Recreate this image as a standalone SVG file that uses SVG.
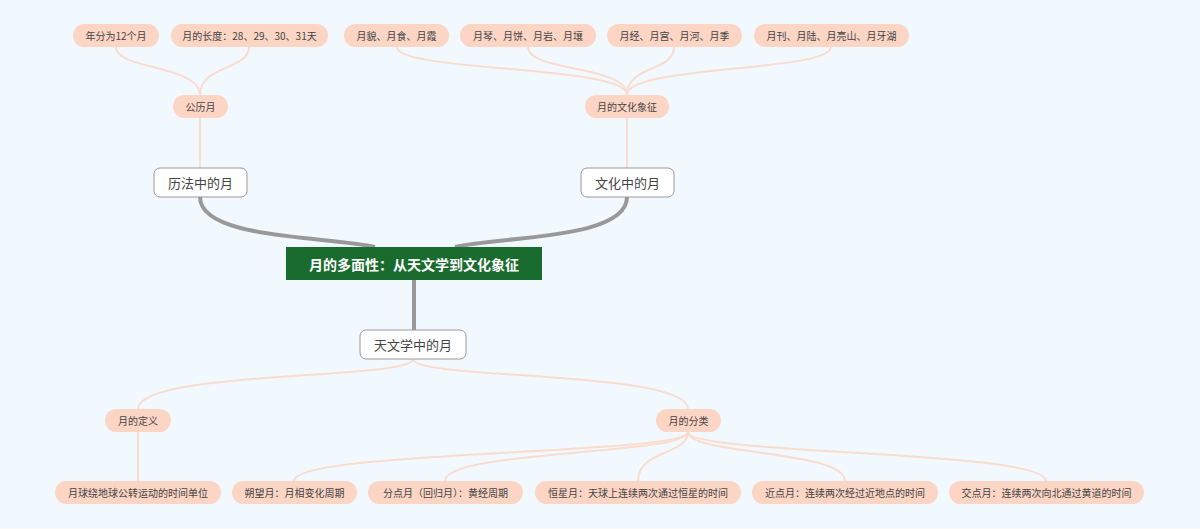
<svg xmlns="http://www.w3.org/2000/svg" width="1200" height="529" viewBox="0 0 1200 529">
<style>
text{font-family:"Noto Sans CJK SC","Noto Sans",sans-serif;text-anchor:middle;dominant-baseline:central}
.p rect{fill:#fdd5c4}
.p text{font-size:10px;fill:#444}
.w rect{fill:#fff;stroke:#999;stroke-width:1}
.w text{font-size:13px;fill:#444}
.c path{fill:none}
.g{stroke:#999;stroke-width:4}
.l{stroke:#fadccf;stroke-width:2}
</style>
<rect width="1200" height="529" fill="#f1f9fe"/>
<g class="c">
<path class="g" d="M200 197 C200 240 330 236 375 247"/>
<path class="g" d="M627 197 C627 240 500 236 455 247"/>
<path class="g" d="M414 280 L414 330"/>
<path class="l" d="M200 118 V168"/>
<path class="l" d="M627 118 V168"/>
<path class="l" d="M116 47 C116 70 200 65 200 95"/>
<path class="l" d="M249 47 C249 70 200 65 200 95"/>
<path class="l" d="M397 47 C397 72 627 65 627 95"/>
<path class="l" d="M528 47 C528 72 627 65 627 95"/>
<path class="l" d="M674 47 C674 72 627 65 627 95"/>
<path class="l" d="M831 47 C831 72 627 65 627 95"/>
<path class="l" d="M413 359 C413 380 138 370 138 409"/>
<path class="l" d="M413 359 C413 380 688 370 688 409"/>
<path class="l" d="M138 432 V481"/>
<path class="l" d="M688 432 C688 455 294 450 294 481"/>
<path class="l" d="M688 432 C688 455 445 450 445 481"/>
<path class="l" d="M688 432 C688 455 638 450 638 481"/>
<path class="l" d="M688 432 C688 455 845 450 845 481"/>
<path class="l" d="M688 432 C688 455 1046 450 1046 481"/>
</g>
<g id="root"><rect x="286" y="247" width="256" height="33" fill="#1a6b2e"/><text x="414" y="263.5" font-size="14" font-weight="bold" fill="#fff">月的多面性：从天文学到文化象征</text></g>
<g id="n1" class="w"><rect x="154" y="168" width="93" height="29" rx="6"/><text x="200.5" y="182.5">历法中的月</text></g>
<g id="n2" class="w"><rect x="581" y="168" width="93" height="29" rx="6"/><text x="627.5" y="182.5">文化中的月</text></g>
<g id="n3" class="w"><rect x="360" y="330" width="106" height="29" rx="6"/><text x="413" y="344.5">天文学中的月</text></g>
<g id="n4" class="p"><rect x="173" y="95" width="55" height="23" rx="11.5"/><text x="200.5" y="106.5">公历月</text></g>
<g id="n5" class="p"><rect x="585" y="95" width="84" height="23" rx="11.5"/><text x="627" y="106.5">月的文化象征</text></g>
<g id="n6" class="p"><rect x="73" y="24" width="86" height="23" rx="11.5"/><text x="116" y="35.5">年分为12个月</text></g>
<g id="n7" class="p"><rect x="171" y="24" width="157" height="23" rx="11.5"/><text x="249.5" y="35.5">月的长度：28、29、30、31天</text></g>
<g id="n8" class="p"><rect x="344" y="24" width="105" height="23" rx="11.5"/><text x="396.5" y="35.5">月貌、月食、月霞</text></g>
<g id="n9" class="p"><rect x="460" y="24" width="136" height="23" rx="11.5"/><text x="528" y="35.5">月琴、月饼、月岩、月壤</text></g>
<g id="n10" class="p"><rect x="607" y="24" width="135" height="23" rx="11.5"/><text x="674.5" y="35.5">月经、月宫、月河、月季</text></g>
<g id="n11" class="p"><rect x="754" y="24" width="155" height="23" rx="11.5"/><text x="831.5" y="35.5">月刊、月陆、月亮山、月牙湖</text></g>
<g id="n12" class="p"><rect x="105" y="409" width="66" height="23" rx="11.5"/><text x="138" y="420.5">月的定义</text></g>
<g id="n13" class="p"><rect x="656" y="409" width="65" height="23" rx="11.5"/><text x="688.5" y="420.5">月的分类</text></g>
<g id="n14" class="p"><rect x="55" y="481" width="166" height="23" rx="11.5"/><text x="138" y="492.5">月球绕地球公转运动的时间单位</text></g>
<g id="n15" class="p"><rect x="232" y="481" width="125" height="23" rx="11.5"/><text x="294.5" y="492.5">朔望月：月相变化周期</text></g>
<g id="n16" class="p"><rect x="368" y="481" width="155" height="23" rx="11.5"/><text x="445.5" y="492.5">分点月（回归月）：黄经周期</text></g>
<g id="n17" class="p"><rect x="535" y="481" width="206" height="23" rx="11.5"/><text x="638" y="492.5">恒星月：天球上连续两次通过恒星的时间</text></g>
<g id="n18" class="p"><rect x="752" y="481" width="186" height="23" rx="11.5"/><text x="845" y="492.5">近点月：连续两次经过近地点的时间</text></g>
<g id="n19" class="p"><rect x="949" y="481" width="195" height="23" rx="11.5"/><text x="1046.5" y="492.5">交点月：连续两次向北通过黄道的时间</text></g>
</svg>
